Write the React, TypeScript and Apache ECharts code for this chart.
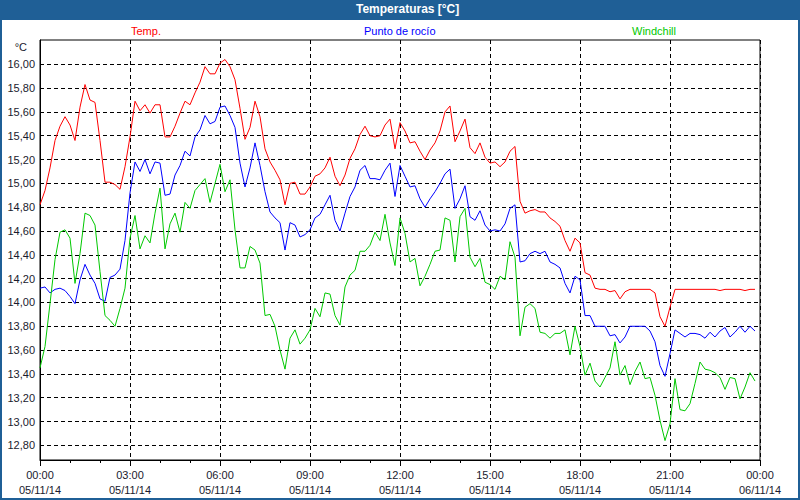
import React, { useEffect, useRef } from 'react';
import * as echarts from 'echarts';

const chartTitle = 'Temperaturas [°C]';
const seriesNames = ['Temp.', 'Punto de rocío', 'Windchill'];
const seriesColors = ['#ff0000', '#0000ff', '#00c800'];
const sampleMinutes = 10;
const hourTicks = [0, 3, 6, 9, 12, 15, 18, 21, 24];
const timeLabels = ['00:00', '03:00', '06:00', '09:00', '12:00', '15:00', '18:00', '21:00', '00:00'];
const dateLabels = ['05/11/14', '05/11/14', '05/11/14', '05/11/14', '05/11/14', '05/11/14', '05/11/14', '05/11/14', '06/11/14'];
const yTicks = [12.8, 13.0, 13.2, 13.4, 13.6, 13.8, 14.0, 14.2, 14.4, 14.6, 14.8, 15.0, 15.2, 15.4, 15.6, 15.8, 16.0];

const temp = [
  14.82, 14.94, 15.13, 15.36, 15.48, 15.56, 15.49, 15.36, 15.64, 15.83,
  15.70, 15.68, 15.36, 15.01, 15.01, 14.99, 14.95, 15.14, 15.39, 15.69,
  15.61, 15.66, 15.59, 15.66, 15.66, 15.39, 15.39, 15.48, 15.59, 15.69,
  15.66, 15.76, 15.85, 15.98, 15.92, 15.92, 16.01, 16.04, 15.98, 15.87,
  15.63, 15.37, 15.47, 15.69, 15.56, 15.29, 15.18, 15.11,
  15.03, 14.82, 15.00, 15.01, 14.91, 14.91, 14.97, 15.06, 15.08, 15.13,
  15.22, 15.06, 14.98, 15.07, 15.21, 15.29, 15.41, 15.48, 15.40, 15.39,
  15.40, 15.49, 15.54, 15.29, 15.51, 15.44, 15.34, 15.35, 15.27, 15.20,
  15.28, 15.34, 15.44, 15.60, 15.65, 15.35, 15.44, 15.54, 15.30, 15.25,
  15.34, 15.22, 15.17, 15.18, 15.14, 15.18, 15.27, 15.31,
  14.85, 14.75, 14.77, 14.78, 14.76, 14.76, 14.71, 14.68, 14.64, 14.52,
  14.43, 14.54, 14.50, 14.25, 14.23, 14.12, 14.11, 14.11, 14.09, 14.10,
  14.03, 14.09, 14.11, 14.11, 14.11, 14.11, 14.11, 14.08, 13.88, 13.80,
  13.96, 14.11, 14.11, 14.11, 14.11, 14.11, 14.11, 14.11, 14.11, 14.11,
  14.10, 14.11, 14.11, 14.11, 14.11, 14.10, 14.11, 14.11,
];

const dewPoint = [
  14.12, 14.13, 14.08, 14.11, 14.12, 14.10, 14.05, 13.99, 14.19, 14.32,
  14.23, 14.16, 14.03, 14.01, 14.21, 14.23, 14.28, 14.52, 14.92, 15.18,
  15.10, 15.20, 15.08, 15.18, 15.17, 14.90, 14.91, 15.07, 15.15, 15.27,
  15.23, 15.39, 15.45, 15.57, 15.50, 15.52, 15.64, 15.65, 15.57, 15.47,
  15.17, 14.97, 15.13, 15.34, 15.15, 14.93, 14.76, 14.71,
  14.67, 14.44, 14.67, 14.65, 14.55, 14.57, 14.61, 14.71, 14.74, 14.82,
  14.90, 14.69, 14.60, 14.75, 14.89, 14.97, 15.11, 15.15, 15.04, 15.04,
  15.03, 15.11, 15.17, 14.89, 15.15, 15.06, 14.97, 14.98, 14.87, 14.80,
  14.87, 14.93, 15.00, 15.08, 15.12, 14.79, 14.87, 14.98, 14.72, 14.69,
  14.77, 14.65, 14.60, 14.61, 14.60, 14.66, 14.79, 14.82,
  14.34, 14.35, 14.41, 14.43, 14.41, 14.43, 14.34, 14.32, 14.29, 14.16,
  14.08, 14.22, 14.19, 13.89, 13.89, 13.80, 13.80, 13.80, 13.72, 13.73,
  13.66, 13.71, 13.80, 13.80, 13.80, 13.80, 13.76, 13.67, 13.47, 13.38,
  13.57, 13.77, 13.74, 13.71, 13.74, 13.74, 13.73, 13.70, 13.75, 13.71,
  13.76, 13.79, 13.71, 13.75, 13.80, 13.75, 13.80, 13.76,
];

const windchill = [
  13.45, 13.63, 13.99, 14.36, 14.59, 14.61, 14.54, 14.16, 14.41, 14.75,
  14.73, 14.65, 14.26, 13.89, 13.85, 13.80, 13.95, 14.12, 14.54, 14.73,
  14.45, 14.56, 14.50, 14.75, 14.96, 14.45, 14.66, 14.75, 14.59, 14.84,
  14.79, 14.94, 14.99, 15.04, 14.84, 15.00, 15.16, 14.93, 15.03, 14.61,
  14.29, 14.29, 14.47, 14.44, 14.33, 13.89, 13.90, 13.80,
  13.60, 13.44, 13.70, 13.77, 13.65, 13.70, 13.77, 13.95, 13.88, 14.08,
  14.07, 13.89, 13.81, 14.13, 14.23, 14.27, 14.43, 14.43, 14.48, 14.59,
  14.52, 14.74, 14.50, 14.31, 14.71, 14.58, 14.34, 14.37, 14.14, 14.22,
  14.32, 14.43, 14.44, 14.71, 14.69, 14.34, 14.72, 14.79, 14.38, 14.30,
  14.37, 14.17, 14.15, 14.11, 14.22, 14.19, 14.51, 14.38,
  13.72, 13.96, 13.99, 13.95, 13.75, 13.74, 13.70, 13.74, 13.74, 13.77,
  13.56, 13.80, 13.63, 13.39, 13.49, 13.34, 13.29, 13.37, 13.45, 13.67,
  13.39, 13.47, 13.31, 13.42, 13.50, 13.36, 13.37, 13.22, 13.01, 12.84,
  12.98, 13.36, 13.10, 13.09, 13.15, 13.32, 13.50, 13.44, 13.43, 13.41,
  13.37, 13.27, 13.37, 13.36, 13.19, 13.29, 13.41, 13.34,
];

const FONT = '"Liberation Sans", Arial, sans-serif';
const TEXT_COLOR = '#1a1a2e';

function toPairs(values: number[]) {
  return values.map((v, i) => [(i * sampleMinutes) / 60, v]);
}

export default function App() {
  const ref = useRef<HTMLDivElement>(null);

  useEffect(() => {
    document.body.style.margin = '0';
    if (!ref.current) return;
    const chart = echarts.init(ref.current, null, { renderer: 'svg' });
    const allSeries = [temp, dewPoint, windchill];
    const legendLefts = [126, 359, 627];

    chart.setOption({
      animation: false,
      backgroundColor: '#ffffff',
      title: {
        text: chartTitle,
        left: 356,
        top: 3,
        padding: 0,
        textStyle: { color: '#ffffff', fontSize: 12, fontWeight: 'bold', fontFamily: FONT },
      },
      legend: seriesNames.map((name, k) => ({
        data: [name],
        left: legendLefts[k],
        top: 24,
        icon: 'none',
        itemWidth: 0,
        itemHeight: 14,
        padding: 0,
        selectedMode: false,
        textStyle: { color: seriesColors[k], fontSize: 11, fontFamily: FONT },
      })),
      graphic: [
        { type: 'rect', z: -10, shape: { x: 0, y: 0, width: 800, height: 20 }, style: { fill: '#1f5f96' } },
        { type: 'rect', z: -10, shape: { x: 1, y: 1, width: 798, height: 498 }, style: { fill: 'none', stroke: '#1f5f96', lineWidth: 2 } },
        {
          type: 'text',
          x: 27,
          y: 47,
          style: { text: '°C', textAlign: 'right', textVerticalAlign: 'middle', fill: TEXT_COLOR, font: `11px ${FONT}` },
        },
      ],
      grid: {
        left: 40,
        top: 40,
        right: 40,
        bottom: 40,
        show: true,
        borderColor: '#000',
        borderWidth: 1,
        backgroundColor: '#ffffff',
      },
      xAxis: {
        type: 'value',
        min: 0,
        max: 24,
        interval: 3,
        axisLine: { show: true, lineStyle: { color: '#000', width: 1 } },
        axisTick: { show: true, length: 6, lineStyle: { color: '#000' } },
        minorTick: { show: true, splitNumber: 3, length: 3, lineStyle: { color: '#000' } },
        splitLine: { show: true, lineStyle: { color: '#000', width: 1, type: [4, 3] } },
        axisLabel: {
          margin: 7,
          color: TEXT_COLOR,
          fontSize: 11,
          fontFamily: FONT,
          lineHeight: 15,
          formatter: (v: number) => {
            const idx = hourTicks.indexOf(Math.round(v));
            return idx >= 0 ? `${timeLabels[idx]}\n${dateLabels[idx]}` : '';
          },
        },
      },
      yAxis: {
        type: 'value',
        min: 12.677,
        max: 16.204,
        axisLine: { show: true, lineStyle: { color: '#000', width: 1 } },
        axisTick: { show: false, customValues: yTicks },
        splitLine: { show: true, lineStyle: { color: '#000', width: 1, type: [4, 3] } },
        axisLabel: {
          customValues: yTicks,
          margin: 5,
          color: TEXT_COLOR,
          fontSize: 11,
          fontFamily: FONT,
          formatter: (v: number) => v.toFixed(2).replace('.', ','),
        },
      },
      series: allSeries.map((vals, k) => ({
        name: seriesNames[k],
        type: 'line',
        data: toPairs(vals),
        showSymbol: false,
        symbol: 'none',
        color: seriesColors[k],
        lineStyle: { color: seriesColors[k], width: 1 },
        clip: true,
      })),
    });

    return () => chart.dispose();
  }, []);

  return <div ref={ref} style={{ width: 800, height: 500 }} />;
}
